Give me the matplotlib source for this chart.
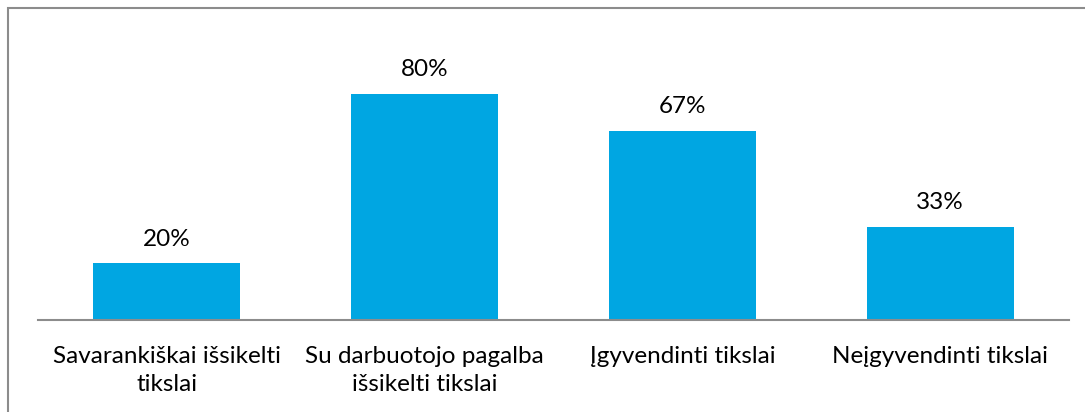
import matplotlib.pyplot as plt
from matplotlib.patches import Rectangle

categories = ["Savarankiškai išsikelti\ntikslai", "Su darbuotojo pagalba\nišsikelti tikslai",
              "Įgyvendinti tikslai", "Neįgyvendinti tikslai"]
values = [20, 80, 67, 33]
value_labels = ["20%", "80%", "67%", "33%"]

plt.rcParams['font.family'] = ['Lato', 'DejaVu Sans']

fig = plt.figure(figsize=(10.85, 4.12), dpi=100)
ax = fig.add_axes([0.035, 0.2233, 0.9503, 0.6857])

x = range(len(categories))
bars = ax.bar(x, values, width=0.57, color="#00A6E2")
for b, lab in zip(bars, value_labels):
    ax.annotate(lab, (b.get_x() + b.get_width() / 2, b.get_height()),
                xytext=(0, 17.5), textcoords="offset points", ha="center", va="center",
                fontsize=17.5, color="#000000")

ax.set_xlim(-0.5, 3.5)
ax.set_ylim(0, 100)
ax.set_xticks(list(x))
ax.set_xticklabels(categories, fontsize=17.5, linespacing=1.42)
ax.tick_params(axis="x", length=0, pad=18.5)
ax.set_yticks([])
for side in ["top", "right", "left"]:
    ax.spines[side].set_visible(False)
ax.spines["bottom"].set_color("#8C8C8C")
ax.spines["bottom"].set_linewidth(1.5)

# chart border (only top and left edges fall inside the image)
fig.patches.append(Rectangle((8 / 1085, -0.1), 1.2, (412 - 8) / 412 + 0.1,
                             transform=fig.transFigure, fill=False,
                             edgecolor="#8C8C8C", linewidth=1.5))

fig.savefig("out.png", dpi=100)
